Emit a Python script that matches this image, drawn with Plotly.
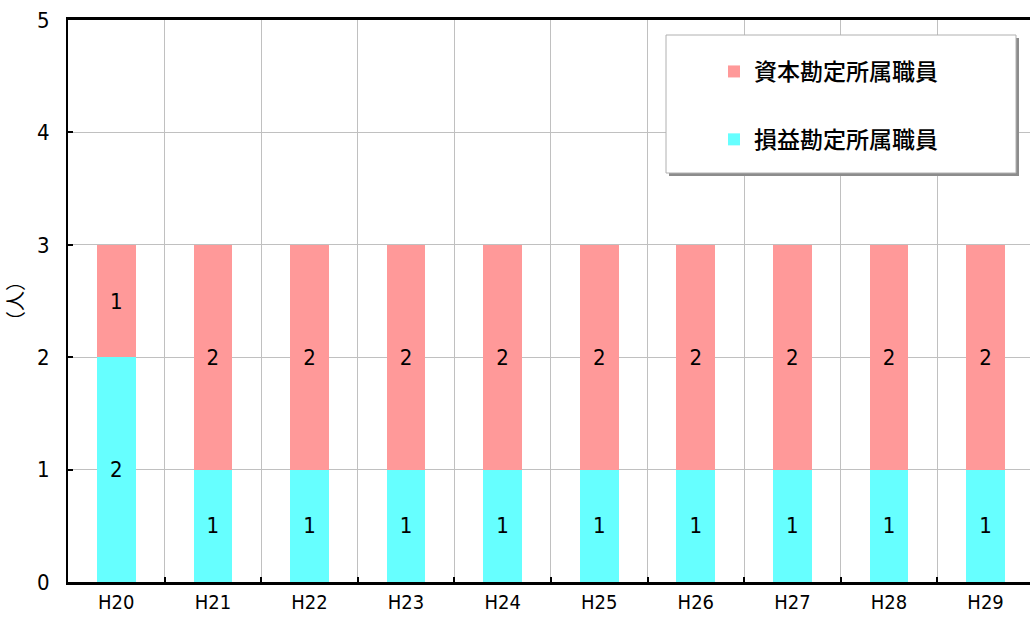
import plotly.graph_objects as go

# 年度ごとの職員数（人）
years = ["H20", "H21", "H22", "H23", "H24", "H25", "H26", "H27", "H28", "H29"]
income_staff = [2, 1, 1, 1, 1, 1, 1, 1, 1, 1]    # 損益勘定所属職員
capital_staff = [1, 2, 2, 2, 2, 2, 2, 2, 2, 2]   # 資本勘定所属職員
y_ticks = [0, 1, 2, 3, 4, 5]

FONT = "DejaVu Sans Condensed, Noto Sans CJK JP, sans-serif"
JP_FONT = "Noto Sans CJK JP, sans-serif"

xs = list(range(len(years)))

fig = go.Figure()
fig.add_trace(go.Bar(
    x=xs, y=income_staff, name="損益勘定所属職員", legendgroup="b", legendrank=2,
    marker=dict(color="#66FFFF", line=dict(width=0)), width=0.4,
    text=income_staff, textposition="inside", insidetextanchor="middle",
    textangle=0, textfont=dict(size=22, color="black", family=FONT),
    constraintext="none",
))
fig.add_trace(go.Bar(
    x=xs, y=capital_staff, name="資本勘定所属職員", legendgroup="a", legendrank=1,
    marker=dict(color="#FF9999", line=dict(width=0)), width=0.4,
    text=capital_staff, textposition="inside", insidetextanchor="middle",
    textangle=0, textfont=dict(size=22, color="black", family=FONT),
    constraintext="none",
))

W, H = 1030, 621
ML, MR, MT, MB = 68, 0, 20, 39
pw, ph = W - ML - MR, H - MT - MB


def px_x(v):
    return (v - ML) / pw


def px_y(v):
    return (H - MB - v) / ph


# 凡例の枠（影付き）
box = dict(x0=666, x1=1016, y0=35, y1=173)
shapes = [
    dict(type="rect", xref="paper", yref="paper", layer="above",
         x0=px_x(box["x0"] + 3), x1=px_x(box["x1"] + 3),
         y0=px_y(box["y1"] + 3), y1=px_y(box["y0"] + 3),
         fillcolor="#8c8c8c", line=dict(width=0)),
    dict(type="rect", xref="paper", yref="paper", layer="above",
         x0=px_x(box["x0"]), x1=px_x(box["x1"]),
         y0=px_y(box["y1"]), y1=px_y(box["y0"]),
         fillcolor="white", line=dict(color="#b0b0b0", width=1)),
]

fig.update_layout(
    width=W, height=H,
    margin=dict(l=ML, r=MR, t=MT, b=MB, pad=0),
    barmode="stack", bargap=0.6,
    plot_bgcolor="white", paper_bgcolor="white",
    font=dict(family=FONT, size=20, color="black"),
    uniformtext=dict(minsize=22, mode="show"),
    showlegend=True,
    legend=dict(
        x=px_x(714), y=px_y(50), xanchor="left", yanchor="top",
        traceorder="grouped", tracegroupgap=35,
        bgcolor="rgba(0,0,0,0)", borderwidth=0,
        font=dict(family=JP_FONT, size=23, color="black", weight=500),
        itemwidth=30,
    ),
    shapes=shapes,
    xaxis=dict(
        range=[-0.5, 9.46], tickmode="array", tickvals=xs, ticktext=years,
        showgrid=False, ticks="", zeroline=False,
        showline=True, linecolor="black", linewidth=3, mirror=True,
        tickfont=dict(family=FONT, size=20),
        minor=dict(tickmode="array", tickvals=[i + 0.5 for i in xs],
                   showgrid=True, gridcolor="#c0c0c0", gridwidth=1,
                   ticks="inside", ticklen=5, tickcolor="black", tickwidth=2),
    ),
    yaxis=dict(
        range=[0, 5], tickmode="array", tickvals=y_ticks,
        showgrid=True, gridcolor="#c0c0c0", gridwidth=1, zeroline=False,
        showline=True, linecolor="black", linewidth=2,
        ticks="inside", ticklen=5, tickcolor="black", tickwidth=2,
        ticklabelstandoff=12,
        tickfont=dict(family=FONT, size=22),
        title=dict(text="（人）", font=dict(family=JP_FONT, size=20), standoff=12),
    ),
)

fig.write_html("out.html")
